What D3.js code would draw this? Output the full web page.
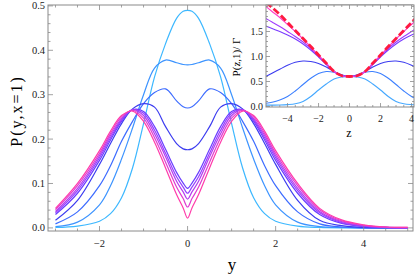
<!DOCTYPE html>
<html>
<head>
<meta charset="utf-8">
<script src="https://cdn.jsdelivr.net/npm/d3@7"></script>
<style>
  body { margin: 0; background: #fff; }
  svg { display: block; font-family: "Liberation Serif", "DejaVu Serif", serif; }
</style>
</head>
<body>
<div class="container"></div>
<script>
// main panel: P(y, x=1) for a family of parameters
var yGrid = [-3, -2.5, -2, -1.75, -1.5, -1.25, -1, -0.75, -0.5, -0.25, -0.1, 0, 0.1, 0.25, 0.5, 0.75, 1, 1.25, 1.5, 1.75, 2, 2.5, 3, 3.5, 4, 4.5, 5];

var curveA = [0.001, 0.004, 0.015, 0.032, 0.068, 0.135, 0.235, 0.34, 0.415, 0.472, 0.488, 0.49, 0.488, 0.472, 0.415, 0.34, 0.235, 0.135, 0.068, 0.032, 0.015, 0.004, 0.001, 0, 0, 0, 0];
var curveB = [0.003, 0.013, 0.052, 0.095, 0.155, 0.225, 0.3, 0.36, 0.378, 0.372, 0.368, 0.367, 0.368, 0.372, 0.378, 0.36, 0.3, 0.225, 0.155, 0.095, 0.052, 0.013, 0.003, 0.001, 0, 0, 0];
var curveC = [0.009, 0.036, 0.095, 0.14, 0.195, 0.24, 0.28, 0.305, 0.313, 0.286, 0.273, 0.27, 0.273, 0.286, 0.313, 0.305, 0.28, 0.24, 0.195, 0.14, 0.095, 0.036, 0.009, 0.002, 0, 0, 0];
var curveD = [0.017, 0.062, 0.143, 0.19, 0.235, 0.268, 0.28, 0.272, 0.228, 0.19, 0.178, 0.176, 0.178, 0.19, 0.228, 0.272, 0.28, 0.268, 0.235, 0.19, 0.143, 0.062, 0.017, 0.005, 0.001, 0, 0];
var curveE = [0.03, 0.078, 0.152, 0.198, 0.24, 0.266, 0.262, 0.228, 0.177, 0.125, 0.101, 0.089, 0.101, 0.125, 0.177, 0.228, 0.262, 0.266, 0.24, 0.198, 0.152, 0.078, 0.03, 0.01, 0.003, 0.001, 0];
var curveF = [0.034, 0.084, 0.158, 0.203, 0.243, 0.266, 0.258, 0.22, 0.168, 0.115, 0.092, 0.078, 0.092, 0.115, 0.168, 0.22, 0.258, 0.266, 0.243, 0.203, 0.158, 0.084, 0.034, 0.012, 0.004, 0.001, 0];
var curveG = [0.037, 0.089, 0.163, 0.208, 0.246, 0.266, 0.253, 0.212, 0.16, 0.105, 0.081, 0.065, 0.081, 0.105, 0.16, 0.212, 0.253, 0.266, 0.246, 0.208, 0.163, 0.089, 0.037, 0.014, 0.005, 0.001, 0];
var curveH = [0.041, 0.095, 0.168, 0.213, 0.25, 0.265, 0.247, 0.203, 0.148, 0.092, 0.066, 0.047, 0.066, 0.092, 0.148, 0.203, 0.247, 0.265, 0.25, 0.213, 0.168, 0.095, 0.041, 0.016, 0.006, 0.002, 0.001];
var curveI = [0.044, 0.1, 0.174, 0.218, 0.253, 0.263, 0.24, 0.193, 0.135, 0.075, 0.045, 0.022, 0.045, 0.075, 0.135, 0.193, 0.24, 0.263, 0.253, 0.218, 0.174, 0.1, 0.044, 0.018, 0.007, 0.002, 0.001];

var mainSeries = [curveA, curveB, curveC, curveD, curveE, curveF, curveG, curveH, curveI];
var mainColors = ["#3db8ff", "#3d94ff", "#3d6cff", "#3c3cf0", "#6a3cff", "#9440ff", "#b43cf0", "#e03cd0", "#ff3caa"];

var mainXTicks = [-2, 0, 2, 4];
var mainYTicks = [0, 0.1, 0.2, 0.3, 0.4, 0.5];

// inset: P(z,1)/Gamma
var zGrid = [-5.4, -5, -4.5, -4, -3.5, -3, -2.5, -2, -1.5, -1, -0.5, -0.25, 0, 0.25, 0.5, 1, 1.5, 2, 2.5, 3, 3.5, 4, 4.5];

var insetA = [0.027, 0.028, 0.03, 0.038, 0.055, 0.1, 0.2, 0.33, 0.45, 0.55, 0.59, 0.598, 0.6, 0.598, 0.59, 0.55, 0.45, 0.33, 0.2, 0.1, 0.055, 0.038, 0.03];
var insetB = [0.065, 0.085, 0.13, 0.2, 0.31, 0.44, 0.565, 0.66, 0.7, 0.685, 0.635, 0.61, 0.6, 0.61, 0.635, 0.685, 0.7, 0.66, 0.565, 0.44, 0.31, 0.2, 0.13];
var insetC = [0.6, 0.665, 0.745, 0.825, 0.885, 0.91, 0.9, 0.86, 0.79, 0.7, 0.63, 0.608, 0.6, 0.608, 0.63, 0.7, 0.79, 0.86, 0.9, 0.91, 0.885, 0.825, 0.745];
var insetD = [1.61, 1.56, 1.5, 1.43, 1.35, 1.25, 1.13, 0.99, 0.84, 0.69, 0.615, 0.603, 0.6, 0.603, 0.615, 0.69, 0.84, 0.99, 1.13, 1.25, 1.35, 1.43, 1.5];
var insetE = [1.76, 1.69, 1.6, 1.5, 1.4, 1.29, 1.16, 1.01, 0.86, 0.7, 0.615, 0.603, 0.6, 0.603, 0.615, 0.7, 0.86, 1.01, 1.16, 1.29, 1.4, 1.5, 1.6];
var insetF = [2.0, 1.9, 1.78, 1.64, 1.5, 1.35, 1.19, 1.025, 0.865, 0.7, 0.615, 0.603, 0.6, 0.603, 0.615, 0.7, 0.865, 1.025, 1.19, 1.35, 1.5, 1.64, 1.78];
var insetLimit = [2.08, 1.98, 1.84, 1.68, 1.52, 1.36, 1.2, 1.03, 0.865, 0.7, 0.615, 0.603, 0.6, 0.603, 0.615, 0.7, 0.865, 1.03, 1.2, 1.36, 1.52, 1.68, 1.84];

var insetSeries = [insetA, insetB, insetC, insetD, insetE, insetF];
var insetColors = ["#45a8ff", "#3d80ff", "#3c3cf0", "#7a3cff", "#a03cff", "#ff3cc8"];

var insetXTicks = [-4, -2, 0, 2, 4];
var insetYTicks = [0, 0.5, 1, 1.5];

const WIDTH = 415;
const HEIGHT = 277;
const FRAME = "#8a8a8a";

var _svg;

var fmtX = function (d) { return d < 0 ? "\u2212" + Math.abs(d) : String(d); };

var drawFrame = function (g, xScale, yScale, opts) {
  var x0 = xScale.range()[0], x1 = xScale.range()[1];
  var y0 = yScale.range()[0], y1 = yScale.range()[1];

  var xs = d3.range(opts.xMinorFrom, opts.xMinorTo + 1e-9, opts.xMinorStep);
  var ys = d3.range(opts.yMinorFrom, opts.yMinorTo + 1e-9, opts.yMinorStep);
  var isMajor = function (v, list) {
    return list.some(function (m) { return Math.abs(m - v) < 1e-6; });
  };

  var ticks = g.append('g').attr('stroke', FRAME).attr('stroke-width', 0.8);
  xs.forEach(function (v) {
    var px = xScale(v);
    if (px < x0 || px > x1) return;
    var len = isMajor(v, opts.xMajor) ? opts.major : opts.minor;
    ticks.append('line').attr('x1', px).attr('x2', px).attr('y1', y0).attr('y2', y0 - len);
    ticks.append('line').attr('x1', px).attr('x2', px).attr('y1', y1).attr('y2', y1 + len);
  });
  ys.forEach(function (v) {
    var py = yScale(v);
    if (py > y0 || py < y1) return;
    var len = isMajor(v, opts.yMajor) ? opts.major : opts.minor;
    ticks.append('line').attr('x1', x0).attr('x2', x0 + len).attr('y1', py).attr('y2', py);
    ticks.append('line').attr('x1', x1).attr('x2', x1 - len).attr('y1', py).attr('y2', py);
  });

  g.append('rect')
    .attr('x', x0).attr('y', y1)
    .attr('width', x1 - x0).attr('height', y0 - y1)
    .attr('fill', 'none').attr('stroke', FRAME).attr('stroke-width', 1);

  g.selectAll('.xlab').data(opts.xMajor).enter().append('text')
    .attr('x', function (d) { return xScale(d); })
    .attr('y', y0 + opts.xLabelDy)
    .attr('text-anchor', 'middle')
    .attr('font-size', opts.fontSize)
    .attr('fill', '#222')
    .text(fmtX);

  g.selectAll('.ylab').data(opts.yMajor).enter().append('text')
    .attr('x', x0 - 3)
    .attr('y', function (d) { return yScale(d) + opts.fontSize * 0.33; })
    .attr('text-anchor', 'end')
    .attr('font-size', opts.fontSize)
    .attr('fill', '#222')
    .text(function (d) { return d.toFixed(1); });
};

var drawMain = function () {
  var xScale = d3.scaleLinear().domain([-3.17, 5.12]).range([48, 413]);
  var yScale = d3.scaleLinear().domain([-0.007, 0.502]).range([231, 5]);

  var line = d3.line()
    .x(function (d, i) { return xScale(yGrid[i]); })
    .y(function (d) { return yScale(d); })
    .curve(d3.curveCatmullRom.alpha(0.5));

  var g = _svg.append('g');
  g.selectAll('path.main').data(mainSeries).enter().append('path')
    .attr('class', 'main')
    .attr('d', line)
    .attr('fill', 'none')
    .attr('stroke', function (d, i) { return mainColors[i]; })
    .attr('stroke-width', 1.2);

  drawFrame(g, xScale, yScale, {
    xMajor: mainXTicks, yMajor: mainYTicks,
    xMinorFrom: -3, xMinorTo: 5, xMinorStep: 0.5,
    yMinorFrom: 0, yMinorTo: 0.5, yMinorStep: 0.02,
    major: 5, minor: 2.5, fontSize: 10.5, xLabelDy: 16
  });

  g.append('text')
    .attr('x', 232).attr('y', 270)
    .attr('text-anchor', 'middle')
    .attr('font-size', 17)
    .text('y');

  g.append('text')
    .attr('transform', 'translate(22,111) rotate(-90)')
    .attr('text-anchor', 'middle')
    .attr('font-size', 16)
    .attr('letter-spacing', 2)
    .text('P(y,x=1)');
};

var drawInset = function () {
  var xScale = d3.scaleLinear().domain([-5.39, 4.16]).range([266, 414]);
  var yScale = d3.scaleLinear().domain([-0.01, 2.03]).range([107, 5]);

  var line = d3.line()
    .x(function (d, i) { return xScale(zGrid[i]); })
    .y(function (d) { return yScale(d); })
    .curve(d3.curveCatmullRom.alpha(0.5));

  var g = _svg.append('g');
  g.append('rect')
    .attr('x', 266).attr('y', 5).attr('width', 148).attr('height', 102)
    .attr('fill', '#fff');

  _svg.append('clipPath').attr('id', 'insetClip')
    .append('rect').attr('x', 266).attr('y', 5).attr('width', 148).attr('height', 102);

  var plot = g.append('g').attr('clip-path', 'url(#insetClip)');
  plot.selectAll('path.inset').data(insetSeries).enter().append('path')
    .attr('class', 'inset')
    .attr('d', line)
    .attr('fill', 'none')
    .attr('stroke', function (d, i) { return insetColors[i]; })
    .attr('stroke-width', 1.1);

  plot.append('path')
    .attr('d', line(insetLimit))
    .attr('fill', 'none')
    .attr('stroke', '#ff1a40')
    .attr('stroke-width', 2.8)
    .attr('stroke-dasharray', '7,3');

  drawFrame(g, xScale, yScale, {
    xMajor: insetXTicks, yMajor: insetYTicks,
    xMinorFrom: -5, xMinorTo: 4, xMinorStep: 0.5,
    yMinorFrom: 0, yMinorTo: 2, yMinorStep: 0.1,
    major: 4, minor: 2, fontSize: 10, xLabelDy: 15
  });

  g.append('text')
    .attr('x', 349).attr('y', 137)
    .attr('text-anchor', 'middle')
    .attr('font-size', 12)
    .text('z');

  g.append('text')
    .attr('transform', 'translate(240,57) rotate(-90)')
    .attr('text-anchor', 'middle')
    .attr('font-size', 11)
    .text('P(z,1)/ \u0393');
};

var onload = function () {
  _svg = d3.select('.container').append('svg')
    .attr('width', WIDTH)
    .attr('height', HEIGHT);
  drawMain();
  drawInset();
};

window.onload = onload;
</script>
</body>
</html>
